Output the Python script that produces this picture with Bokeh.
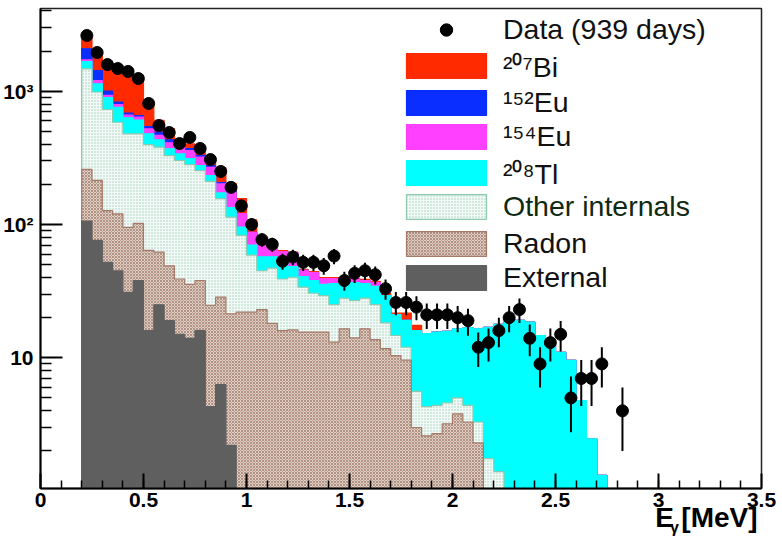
import numpy as np
from bokeh.plotting import figure
from bokeh.models import (Range1d, FixedTicker, Legend, LegendItem, LinearAxis)
from bokeh.embed import file_html
from bokeh.resources import INLINE

# ---------------- data ----------------
bin_lo = 0.20
bin_width = 0.05
n_bins = 53

data_counts = [2618, 1950, 1585, 1479, 1406, 1245, 809, 553, 490, 405,
               450, 372, 307, 250, 190, 138, 100, 77, 71, 53,
               57, 52, 52, 49, 58, 38, 43, 45, 42, 33,
               26, 26, 24, 21, 21, 21, 20, 19, 12, 13,
               16, 20, 23, 14, 9, 13, 15, 5, 7, 7,
               9, 0, 4]

external = [106, 76, 52, 45, 31, 38, 16, 25, 19, 15,
            14, 16, 4.3, 6.3, 2.2] + [0] * 38

radon = [153, 138, 75, 75, 64, 64, 48, 37, 30, 24,
         21.5, 22, 20.4, 22.2, 19.2, 22, 22, 23, 18.1, 16,
         16.2, 15.6, 15.6, 15.6, 13.1, 16.5, 14.1, 16.5, 13.7, 11.7,
         10.4, 9.6, 3.0, 2.6, 2.7, 3.2, 3.8, 3.3, 2.3, 1.0] + [0] * 13

other_internals = [1213, 772, 602, 465, 384, 377, 334, 318, 280, 263,
                   246, 216, 186, 128, 92, 61, 37, 22, 29, 23,
                   24, 18.3, 14.9, 13.7, 12.0, 11.5, 12.8, 11.5, 11.4, 6.6,
                   4.3, 2.4, 2.6, 1.7, 1.7, 1.4, 1.2, 1.1, 1.0, 0.75,
                   1.4] + [0] * 12

tl208 = [198, 150, 168, 170, 153, 129, 81, 52, 41, 37,
         31, 23, 22, 16, 20.6, 12.7, 11.1, 12.3, 10.2, 12.8,
         8.2, 6.8, 7.5, 6.2, 11.0, 8.1, 9.8, 8.1, 9.2, 11.0,
         6.4, 7.1, 10.4, 10.9, 11.2, 11.2, 11.5, 12.4, 13.2, 15.2,
         16.4, 18.7, 19.1, 18.5, 14.7, 12.4, 11.0, 9.55, 4.78, 2.47,
         1.31, 0, 0]

eu154 = [50, 67, 32, 40, 29, 30, 43, 33.5, 40, 45,
         46, 43, 36, 29, 40, 24.9, 17.1, 15.8, 14.9, 10.8,
         12.7, 4.5, 5.6, 3.8, 3.2, 2.6, 2.0, 1.9, 2.4] + [0] * 24

eu152 = [360, 227, 71, 32, 23, 19, 21, 27, 22, 30,
         13, 9.5, 8, 4.6, 6] + [0] * 38

bi207 = [537, 531, 642, 732, 788, 617, 299, 111, 90, 25,
         31, 51, 39.5, 60, 24, 35.6, 21, 8, 2.2, 1.1,
         0.9, 0.8, 0.8, 0.7, 0.7, 0.6, 0.4, 0.7, 0.7, 1.1,
         0.5, 2.55, 1.5] + [0] * 20

x_ticks = [0, 0.5, 1, 1.5, 2, 2.5, 3, 3.5]
x_tick_labels = ["0", "0.5", "1", "1.5", "2", "2.5", "3", "3.5"]
y_ticks = [10, 100, 1000]
y_tick_labels = ["10", "10\u00b2", "10\u00b3"]
x_title_main = "E"
x_title_sub = "\u03b3"
x_title_unit = "[MeV]"
data_label = "Data (939 days)"

# ---------------- figure ----------------
p = figure(width=782, height=541,
           x_range=Range1d(0, 3.5), y_range=Range1d(1.046, 4173),
           y_axis_type="log", output_backend="svg", toolbar_location=None,
           min_border_left=40, min_border_right=21, min_border_top=8,
           min_border_bottom=53)
p.background_fill_color = "white"
p.border_fill_color = "white"
p.outline_line_color = "#222222"
p.outline_line_width = 1.5
p.xgrid.visible = False
p.ygrid.visible = False

edges = bin_lo + bin_width * np.arange(n_bins + 1)
BASE = 0.5


def step_polygon(top):
    xs = [edges[0]]
    ys = [BASE]
    for i in range(n_bins):
        v = max(top[i], BASE)
        xs += [edges[i], edges[i + 1]]
        ys += [v, v]
    xs.append(edges[-1])
    ys.append(BASE)
    return xs, ys


components = [
    ("External", external, dict(fill_color="#5f5f5f", line_color="#5f5f5f")),
    ("Radon", radon, dict(fill_color="#e0d1c8", line_color="#a67a68",
                          hatch_pattern="x", hatch_color="#a58070",
                          hatch_scale=3, hatch_weight=0.8)),
    ("Other internals", other_internals, dict(fill_color="#f3f9f6", line_color="#8ccab0",
                                              hatch_pattern=".", hatch_color="#9dcfb8",
                                              hatch_scale=3, hatch_weight=1)),
    ("\u00b2\u2070\u2078Tl", tl208, dict(fill_color="#00ffff", line_color="#00ffff")),
    ("\u00b9\u2075\u2074Eu", eu154, dict(fill_color="#ff40ff", line_color="#ff40ff")),
    ("\u00b9\u2075\u00b2Eu", eu152, dict(fill_color="#0a2eff", line_color="#0a2eff")),
    ("\u00b2\u2070\u2077Bi", bi207, dict(fill_color="#ff2a00", line_color="#ff2a00")),
]

cums = []
running = np.zeros(n_bins)
for name, vals, style in components:
    running = running + np.array(vals, dtype=float)
    cums.append(running.copy())

renderers = {}
# ROOT-like stack: draw the total first, then each lower cumulative on top
for (name, vals, style), cum in reversed(list(zip(components, cums))):
    xs, ys = step_polygon(cum)
    r = p.patch(xs, ys, line_width=1.2, **style)
    renderers[name] = r

# data points with Poisson errors
d = np.array(data_counts, dtype=float)
centers = edges[:-1] + bin_width / 2
m = d > 0
err = np.sqrt(d[m])
p.segment(x0=centers[m], y0=d[m] - err, x1=centers[m], y1=d[m] + err,
          line_color="black", line_width=2)
r_data = p.scatter(centers[m], d[m], marker="circle", size=12,
                   fill_color="black", line_color="black")

# ---------------- axes ----------------
p.xaxis.ticker = FixedTicker(ticks=x_ticks,
                             minor_ticks=[round(v, 2) for v in np.arange(0.1, 3.5, 0.1)])
p.xaxis.major_label_overrides = {float(t): l for t, l in zip(x_ticks, x_tick_labels)}
minor_y = [k * 10 ** e for e in range(0, 4) for k in range(2, 10) if k * 10 ** e < 4173]
p.yaxis.ticker = FixedTicker(ticks=y_ticks, minor_ticks=minor_y)
p.yaxis.major_label_overrides = {t: l for t, l in zip(y_ticks, y_tick_labels)}

for ax in (p.xaxis[0], p.yaxis[0]):
    ax.axis_line_width = 2
    ax.axis_line_color = "black"
    ax.major_tick_out = 0
    ax.minor_tick_out = 0
    ax.major_tick_line_width = 2
    ax.minor_tick_line_width = 1.5
    ax.major_label_text_font = "Liberation Sans"
    ax.major_label_text_font_style = "bold"
    ax.major_label_text_font_size = "21px"
    ax.major_label_text_color = "black"
p.xaxis.major_tick_in = 15
p.xaxis.minor_tick_in = 8
p.xaxis.major_label_standoff = 4
p.yaxis.major_tick_in = 22
p.yaxis.minor_tick_in = 11
p.yaxis.major_label_standoff = 7


def label_axis(positions, texts, size, standoff):
    ax = LinearAxis(ticker=FixedTicker(ticks=positions, minor_ticks=[]),
                    major_label_overrides={pos: t for pos, t in zip(positions, texts)},
                    axis_line_color=None, major_tick_line_color=None,
                    minor_tick_line_color=None, major_tick_out=0, major_tick_in=0,
                    major_label_standoff=standoff,
                    major_label_text_font="Liberation Sans",
                    major_label_text_font_style="bold",
                    major_label_text_font_size=size,
                    major_label_text_color="black")
    p.add_layout(ax, "below")
    return ax


# x-axis title, right-aligned as in ROOT: "E" + subscript gamma + "[MeV]"
label_axis([3.03, 3.296], [x_title_main, x_title_unit], "28px", -8)
label_axis([3.078], [x_title_sub], "16px", -17)

# ---------------- legend (three blocks so one label can be green) ----------------
def make_legend(entries, location, color):
    lg = Legend(items=entries, location=location,
                glyph_width=100, glyph_height=31, label_height=31,
                label_standoff=7, spacing=1, padding=0, margin=0,
                label_text_font="Liberation Sans", label_text_font_size="28.5px",
                label_text_color=color,
                border_line_alpha=0, background_fill_alpha=0)
    p.add_layout(lg)


block_a = [LegendItem(label=data_label, renderers=[r_data])]
block_a += [LegendItem(label=n, renderers=[renderers[n]])
            for n in ["\u00b2\u2070\u2077Bi", "\u00b9\u2075\u00b2Eu",
                      "\u00b9\u2075\u2074Eu", "\u00b2\u2070\u2078Tl"]]
block_b = [LegendItem(label="Other internals", renderers=[renderers["Other internals"]])]
block_c = [LegendItem(label=n, renderers=[renderers[n]]) for n in ["Radon", "External"]]

make_legend(block_a, (356, 296.5), "#111111")
make_legend(block_b, (356, 265), "#0e2a10")
make_legend(block_c, (356, 194), "#111111")

open("out.html", "w").write(file_html(p, INLINE))
